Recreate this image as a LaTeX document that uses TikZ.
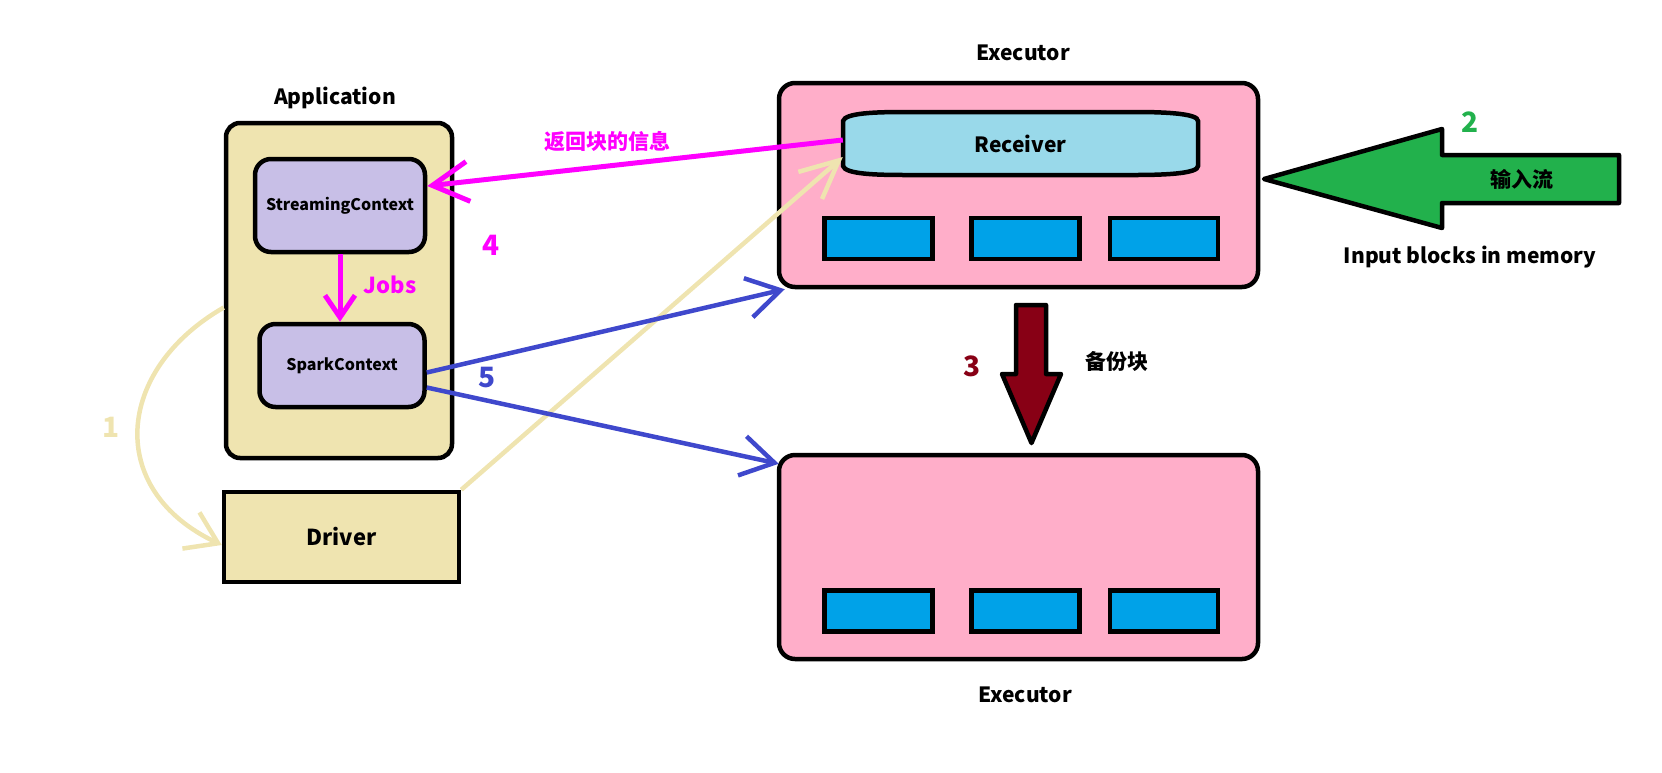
\documentclass[tikz,border=0pt]{standalone}
\usepackage{fontspec}
\setmainfont{Noto Sans CJK SC}
\usepackage{tikz}
\usetikzlibrary{positioning}
\usetikzlibrary{arrows.meta,calc}

\definecolor{appcream}{HTML}{EFE4B0}
\definecolor{ctxpurple}{HTML}{C8BFE7}
\definecolor{exepink}{HTML}{FFAEC9}
\definecolor{rcvblue}{HTML}{99D9EA}
\definecolor{blkblue}{HTML}{00A2E8}
\definecolor{jobmagenta}{HTML}{FF00FF}
\definecolor{sendblue}{HTML}{3F48CC}
\definecolor{ingreen}{HTML}{22B14C}
\definecolor{bakred}{HTML}{880015}

\newcommand{\fsz}[1]{\fontsize{#1}{#1}\selectfont}

\tikzset{
  appbox/.style={draw, line width=4.5pt, fill=appcream, rounded corners=14pt},
  ctxbox/.style={draw, line width=4.5pt, fill=ctxpurple, rounded corners=16pt, font=\bfseries\fsz{16}},
  exebox/.style={draw, line width=4.5pt, fill=exepink, rounded corners=16pt},
  blkbox/.style={draw, line width=4.5pt, fill=blkblue, minimum width=108pt, minimum height=41pt},
  lbl/.style={font=\bfseries\fsz{21}},
  num/.style={font=\bfseries\fsz{28}},
  creamline/.style={draw=appcream, line width=4.5pt},
  magline/.style={draw=jobmagenta, line width=5pt},
  blueline/.style={draw=sendblue, line width=4.5pt}
}

\begin{document}
\begin{tikzpicture}[x=1pt, y=-1pt]
  \useasboundingbox (0,0) rectangle (1662,772);

  % Application with its two contexts
  \node[appbox, minimum width=226pt, minimum height=335pt] (app) at (339,290.5) {};
  \node[lbl] (applbl) at (335,98) {Application};
  \node[ctxbox, minimum width=170pt, minimum height=93pt] (stream) at (340,205.5) {StreamingContext};
  \node[ctxbox, minimum width=165pt, minimum height=83pt] (spark) at (342,365.5) {SparkContext};

  % Driver
  \node[draw, line width=4.5pt, fill=appcream, minimum width=235pt, minimum height=90pt,
        font=\bfseries\fsz{22}] (driver) at (341.5,537) {Driver};

  % Executors
  \node[exebox, minimum width=479pt, minimum height=204pt] (exec1) at (1018.5,185) {};
  \node[exebox, minimum width=479pt, minimum height=204pt] (exec2) at (1018.5,557) {};
  \node[lbl] (exec1lbl) at (1023,53) {Executor};
  \node[lbl] (exec2lbl) at (1025,695) {Executor};

  % Receiver
  \draw[line width=4.5pt, fill=rcvblue] (843,121) .. controls (845,113) and (875,112) .. (905,112)
    -- (1135,112) .. controls (1170,112) and (1198,114) .. (1198,121) -- (1198,166)
    .. controls (1198,173) and (1170,175) .. (1135,175) -- (905,175)
    .. controls (875,175) and (845,174) .. (843,166) -- cycle;
  \node[lbl, minimum width=355pt, minimum height=63pt] (rcv) at (1020.5,143.5) {Receiver};

  % blocks in both executors
  \foreach \i/\x in {1/878.5, 2/1025.5, 3/1164} {
    \node[blkbox] (blkA\i) at (\x,238.5) {};
    \node[blkbox] (blkB\i) at (\x,611) {};
  }

  % Input stream arrow
  \draw[line width=4.5pt, fill=ingreen, line join=round] (1264,179) -- (1442,129) -- (1442,155)
    -- (1619,155) -- (1619,203) -- (1442,203) -- (1442,228) -- cycle;
  \node[lbl] (instream) at (1522,179) {输入流};
  \node[num, text=ingreen] (n2) at (1470,122) {2};
  \node[font=\bfseries\fsz{21}] (inlbl) at (1470,257) {Input blocks in memory};

  % Backup arrow
  \draw[line width=4.5pt, fill=bakred, line join=round] (1016,305) -- (1046,305) -- (1046,374)
    -- (1061,374) -- (1031.5,443) -- (1002,374) -- (1016,374) -- cycle;
  \node[num, text=bakred] (n3) at (972,366) {3};
  \node[lbl] (baklbl) at (1117,361) {备份块};

  % 1: Application to Driver
  \draw[creamline, -{Straight Barb[length=30pt, width=40pt]}] ([yshift=-17pt]app.west)
    .. controls (115,370) and (105,490) .. ([yshift=-8pt]driver.west);
  \node[num, text=appcream] (n1) at (111,427) {1};

  % Driver to Receiver
  \draw[creamline, -{Straight Barb[length=38pt, width=36pt]}] (driver.north east) -- ([yshift=-13.5pt]rcv.west);

  % Jobs
  \draw[magline, -{Straight Barb[length=22pt, width=30pt]}] (stream.south) -- (stream.south |- spark.north);
  \node[font=\bfseries\fsz{22}, text=jobmagenta] (jobs) at (390,285) {Jobs};

  % 4: block info back to StreamingContext
  \draw[magline, -{Straight Barb[length=36pt, width=40pt]}] ([yshift=3.5pt]rcv.west) -- ([yshift=19.5pt]stream.east);
  \node[lbl, text=jobmagenta] (backlbl) at (607,141) {返回块的信息};
  \node[num, text=jobmagenta] (n4) at (491,245) {4};

  % 5: SparkContext to executors
  \draw[blueline, -{Straight Barb[length=33pt, width=40pt]}] ([yshift=-7pt]spark.east) -- ([xshift=8pt]exec1.south west);
  \draw[blueline, -{Straight Barb[length=33pt, width=40pt]}] ([yshift=-22pt]spark.east) -- ([xshift=2pt,yshift=-11pt]exec2.north west);
  \node[num, text=sendblue] (n5) at (487,378) {5};
\end{tikzpicture}
\end{document}
